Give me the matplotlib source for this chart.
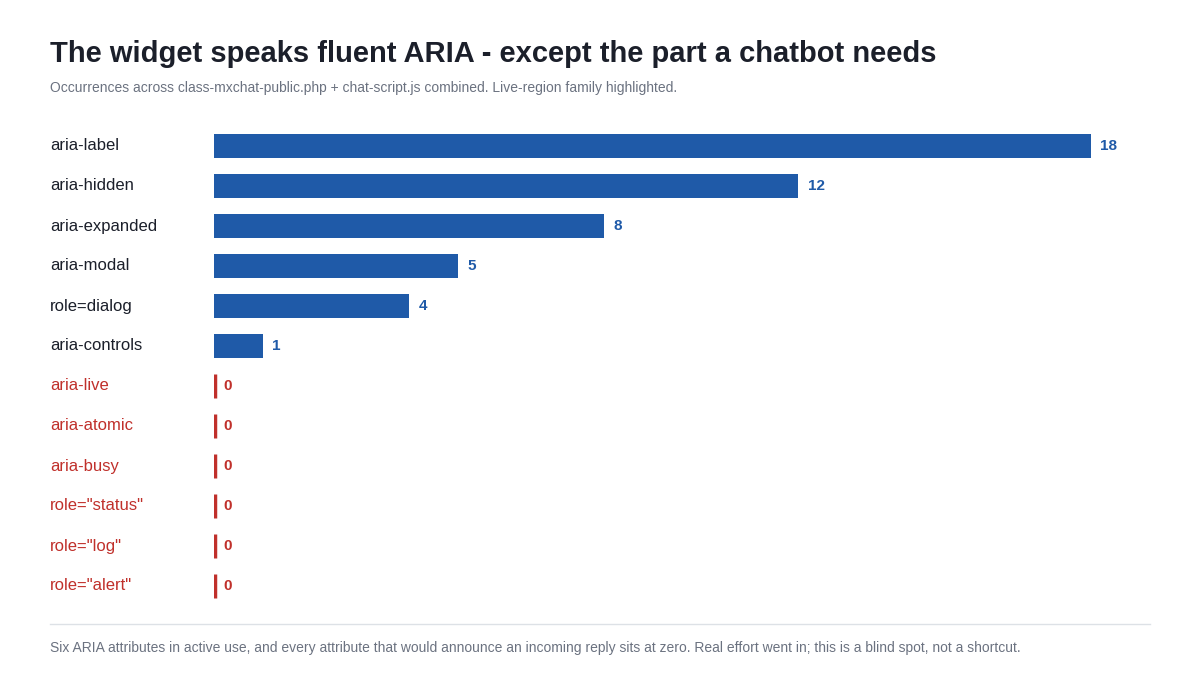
import matplotlib
matplotlib.use("Agg")
import matplotlib.pyplot as plt
from matplotlib.transforms import blended_transform_factory
from matplotlib.lines import Line2D

BLUE = "#1f5aa8"
RED = "#c0302b"
DARK = "#1b1f2a"
GRAY = "#6b7280"

labels = ["aria-label", "aria-hidden", "aria-expanded", "aria-modal", "role=dialog",
          "aria-controls", "aria-live", "aria-atomic", "aria-busy", 'role="status"',
          'role="log"', 'role="alert"']
counts = [18, 12, 8, 5, 4, 1, 0, 0, 0, 0, 0, 0]
live_region = [False] * 6 + [True] * 6

plt.rcParams["font.family"] = ["Liberation Sans", "DejaVu Sans"]

fig = plt.figure(figsize=(12, 7), dpi=100)
ax = fig.add_axes([214 / 1200, 1 - 606 / 700, (1150 - 214) / 1200, 480 / 700])

ys = list(range(len(labels)))
for y, v, live in zip(ys, counts, live_region):
    col = RED if live else BLUE
    if v > 0:
        ax.barh(y, v, height=0.62, color=col)
    else:
        ax.vlines(0.03, y - 0.31, y + 0.31, color=col, linewidth=2.5)
    ax.text(v + 0.2, y, str(v), ha="left", va="center", fontsize=11,
            fontweight="bold", color=col)

trans = blended_transform_factory(fig.transFigure, ax.transData)
for y, lab, live in zip(ys, labels, live_region):
    ax.text(50 / 1200, y, lab, transform=trans, ha="left", va="center",
            fontsize=12, color=RED if live else DARK)

ax.set_xlim(0, (1150 - 214) / 48.7)
ax.set_ylim(len(labels) - 0.5, -0.5)
ax.axis("off")

fig.text(50 / 1200, 1 - 54 / 700, "The widget speaks fluent ARIA - except the part a chatbot needs",
         fontsize=21, fontweight="bold", color=DARK, va="center")
fig.text(50 / 1200, 1 - 88 / 700,
         "Occurrences across class-mxchat-public.php + chat-script.js combined. Live-region family highlighted.",
         fontsize=10, color=GRAY, va="center")
fig.add_artist(Line2D([50 / 1200, 1150 / 1200], [1 - 624 / 700] * 2, color="#dde1e6", linewidth=1))
fig.text(50 / 1200, 1 - 648 / 700,
         "Six ARIA attributes in active use, and every attribute that would announce an incoming reply sits at zero. "
         "Real effort went in; this is a blind spot, not a shortcut.",
         fontsize=10, color=GRAY, va="center")

fig.savefig("out.png", dpi=100)
